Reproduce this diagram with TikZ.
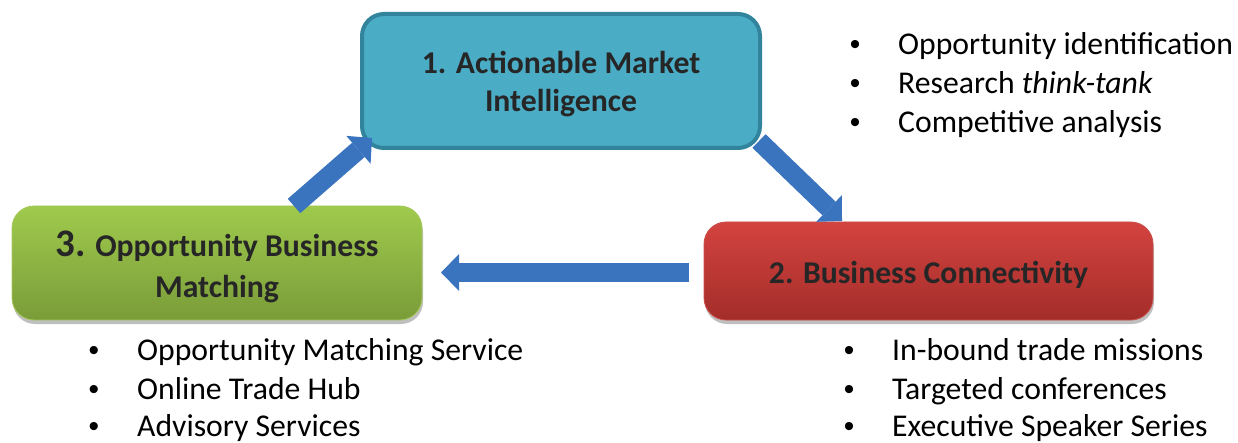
\documentclass[tikz,border=0pt]{standalone}
\usepackage{fontspec}
\setmainfont{Carlito}
\newfontfamily\bulletfont{Liberation Sans}
\usetikzlibrary{arrows.meta,shadows}
\definecolor{tealfill}{HTML}{4BACC6}
\definecolor{tealline}{HTML}{31849B}
\definecolor{redtop}{HTML}{D3433F}
\definecolor{redbot}{HTML}{A32D2A}
\definecolor{redline}{HTML}{C9504C}
\definecolor{greentop}{HTML}{9FCA4C}
\definecolor{greenbot}{HTML}{7A9C39}
\definecolor{greenline}{HTML}{A5C85C}
\definecolor{arrowblue}{HTML}{3A73BE}
\definecolor{titletext}{HTML}{262626}
\tikzset{
  box/.style={rectangle, rounded corners=22pt, inner sep=0pt},
  title/.style={align=center, text=titletext, inner sep=0pt,
    font=\bfseries\fontsize{31.7}{38}\selectfont},
  boxshadow/.style={drop shadow={opacity=0.25, shadow xshift=1pt, shadow yshift=-4pt, fill=black}},
  blockarrow/.style={draw=arrowblue, line width=19pt,
    -{Triangle[length=18pt, width=37pt, line width=0pt]}},
  bullettext/.style={anchor=base west, inner sep=0pt, font=\fontsize{31.7}{38}\selectfont},
  bulletdot/.style={anchor=base, inner sep=0pt, font=\bulletfont\fontsize{30}{38}\selectfont},
}
\begin{document}
\begin{tikzpicture}[x=1pt,y=-1pt]
\useasboundingbox (0,0) rectangle (1238,443);

% boxes
\node[box, boxshadow, minimum width=410pt, minimum height=114pt,
  top color=greentop, bottom color=greenbot, draw=greenline, line width=0.8pt,
  label={[title, font=\bfseries\fontsize{31.7}{41}\selectfont, yshift=-4pt]center:{{\fontsize{39}{41}\selectfont 3.} Opportunity Business\\Matching}}]
  (n3) at (217,263) {};
\node[box, boxshadow, minimum width=449pt, minimum height=98pt,
  top color=redtop, bottom color=redbot, draw=redline, line width=0.8pt,
  label={[title, yshift=-3.5pt]center:2. Business Connectivity}]
  (n2) at (928.5,271) {};
\node[box, minimum width=398pt, minimum height=134pt,
  fill=tealfill, draw=tealline, line width=4pt,
  label={[title, yshift=-3pt]center:{1. Actionable Market\\Intelligence}}]
  (n1) at (561,81) {};

% arrows
\coordinate (a3s) at (294,206);
\coordinate (a3e) at (372,138);
\coordinate (a1s) at (759,141);
\coordinate (a1e) at (842,221);
\coordinate (a2s) at (689,272.5);
\coordinate (a2e) at (441,272.5);
\draw[blockarrow] (a3s) -- (a3e);
\draw[blockarrow] (a1s) -- (a1e);
\draw[blockarrow] (a2s) -- (a2e);

% bullets top right
\node[bulletdot] (d11) at (855,55) {•};
\node[bullettext] (t11) at (898,55) {Opportunity identification};
\node[bulletdot] (d12) at (855,94) {•};
\node[bullettext] (t12) at (898,94) {Research \textit{think-tank}};
\node[bulletdot] (d13) at (855,133) {•};
\node[bullettext] (t13) at (898,133) {Competitive analysis};

% bullets bottom left
\node[bulletdot] (d31) at (94,360) {•};
\node[bullettext] (t31) at (137,360) {Opportunity Matching Service};
\node[bulletdot] (d32) at (94,399) {•};
\node[bullettext] (t32) at (137,399) {Online Trade Hub};
\node[bulletdot] (d33) at (94,436) {•};
\node[bullettext] (t33) at (137,436) {Advisory Services};

% bullets bottom right
\node[bulletdot] (d21) at (849,360) {•};
\node[bullettext] (t21) at (892,360) {In-bound trade missions};
\node[bulletdot] (d22) at (849,399) {•};
\node[bullettext] (t22) at (892,399) {Targeted conferences};
\node[bulletdot] (d23) at (849,436) {•};
\node[bullettext] (t23) at (892,436) {Executive Speaker Series};
\end{tikzpicture}
\end{document}
